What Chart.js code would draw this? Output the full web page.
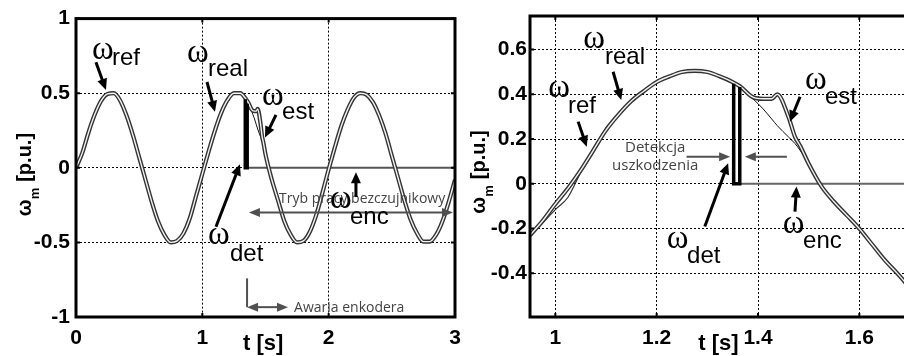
<!DOCTYPE html>
<html><head><meta charset="utf-8">
<script src="https://cdn.jsdelivr.net/npm/chart.js@4.4.1/dist/chart.umd.min.js"></script>
<style>
html,body{margin:0;padding:0;background:#fff;overflow:hidden;width:904px;height:356px}
#wrap{position:relative;width:904px;height:356px;overflow:hidden}
canvas{position:absolute;top:0}
#c1{left:0}
#c2{left:460px}
</style></head>
<body><div id="wrap"><canvas id="c1" width="470" height="356" style="width:470px;height:356px"></canvas><canvas id="c2" width="470" height="356" style="width:470px;height:356px"></canvas></div>
<script>
// ---------- LEFT PANEL DATA (t in s, omega in p.u.) ----------
const tL = [0,0.05,0.1,0.15,0.2,0.25,0.3,0.35,0.4,0.45,
  0.5,0.55,0.6,0.65,0.7,0.75,0.8,0.85,0.9,0.95,
  1.0,1.05,1.1,1.15,1.2,1.25,1.3,1.35,
  1.365,1.39,1.41,1.427,1.438,1.46,1.473,1.483,
  1.5,1.55,1.6,1.65,1.7,1.75,1.8,1.85,1.9,1.95,
  2.0,2.05,2.1,2.15,2.2,2.25,2.3,2.35,2.4,2.45,
  2.5,2.55,2.6,2.65,2.7,2.75,2.8,2.85,2.9,2.95,3.0];
const realL = [0,0.10,0.24,0.36,0.45,0.495,0.50,0.45,0.35,0.22,
  0.07,-0.08,-0.23,-0.36,-0.45,-0.50,-0.49,-0.44,-0.34,-0.19,
  -0.04,0.11,0.25,0.37,0.455,0.50,0.50,0.455,
  0.435,0.39,0.38,0.38,0.395,0.30,0.21,0.17,
  0.09,-0.08,-0.22,-0.36,-0.45,-0.50,-0.49,-0.43,-0.32,-0.17,
  -0.01,0.14,0.28,0.39,0.47,0.50,0.49,0.44,0.35,0.23,
  0.08,-0.07,-0.22,-0.35,-0.44,-0.495,-0.495,-0.45,-0.36,-0.23,-0.08];
const refL = [0,0.10,0.24,0.36,0.45,0.495,0.50,0.45,0.35,0.22,
  0.07,-0.08,-0.23,-0.36,-0.45,-0.50,-0.49,-0.44,-0.34,-0.19,
  -0.04,0.11,0.25,0.37,0.455,0.50,0.50,0.455,
  0.43,0.38,0.335,0.29,0.26,0.21,0.18,0.15,
  0.09,-0.08,-0.22,-0.36,-0.45,-0.50,-0.49,-0.43,-0.32,-0.17,
  -0.01,0.14,0.28,0.39,0.47,0.50,0.49,0.44,0.35,0.23,
  0.08,-0.07,-0.22,-0.35,-0.44,-0.495,-0.495,-0.45,-0.36,-0.23,-0.08];
const tEncL = [0,0.05,0.1,0.15,0.2,0.25,0.3,0.35,0.4,0.45,
  0.5,0.55,0.6,0.65,0.7,0.75,0.8,0.85,0.9,0.95,
  1.0,1.05,1.1,1.15,1.2,1.25,1.3,1.35,1.355,1.355,3.0];
const encL = [0,0.10,0.24,0.36,0.45,0.495,0.50,0.45,0.35,0.22,
  0.07,-0.08,-0.23,-0.36,-0.45,-0.50,-0.49,-0.44,-0.34,-0.19,
  -0.04,0.11,0.25,0.37,0.455,0.50,0.50,0.455,0.44,0,0];
const tDetL = [1.34,1.34,1.355,1.355];
const detL  = [0.46,0,0,0.43];
const xTicksL = [0,1,2,3];
const yTicksL = [-1,-0.5,0,0.5,1];

// ---------- RIGHT PANEL DATA (zoom) ----------
const tR = [0.95,0.975,1.0,1.025,1.05,1.075,1.1,1.125,1.15,1.175,
  1.2,1.225,1.25,1.275,1.3,1.325,1.35,
  1.365,1.39,1.41,1.427,1.438,1.46,1.473,1.483,
  1.5,1.525,1.55,1.575,1.6,1.625,1.65,1.675,1.7];
const realR = [-0.23,-0.165,-0.09,-0.02,0.06,0.15,0.24,0.31,0.37,0.415,
  0.455,0.48,0.50,0.505,0.50,0.48,0.455,
  0.435,0.387,0.38,0.38,0.40,0.30,0.21,0.17,
  0.09,-0.01,-0.08,-0.14,-0.20,-0.27,-0.34,-0.40,-0.465];
const refR = [-0.225,-0.16,-0.085,-0.015,0.065,0.15,0.235,0.305,0.365,0.41,
  0.45,0.478,0.497,0.503,0.498,0.48,0.452,
  0.43,0.38,0.335,0.29,0.26,0.21,0.18,0.15,
  0.09,-0.01,-0.08,-0.14,-0.20,-0.27,-0.34,-0.40,-0.465];
const estR = [-0.235,-0.175,-0.115,-0.06,0.05,0.14,0.25,0.305,0.37,0.415,
  0.455,0.48,0.50,0.505,0.50,0.48,0.455,
  0.435,0.387,0.38,0.38,0.40,0.30,0.21,0.17,
  0.09,-0.01,-0.08,-0.14,-0.20,-0.27,-0.34,-0.40,-0.465];
const tEncR = [0.95,0.975,1.0,1.025,1.05,1.075,1.1,1.125,1.15,1.175,
  1.2,1.225,1.25,1.275,1.3,1.325,1.35,1.364,1.364,1.7];
const encR = [-0.23,-0.165,-0.09,-0.02,0.06,0.15,0.24,0.31,0.37,0.415,
  0.455,0.48,0.50,0.505,0.50,0.48,0.455,0.44,0,0];
const tDetR = [1.352,1.352,1.364,1.364];
const detR  = [0.447,0,0,0.433];
const xTicksR = [1,1.2,1.4,1.6];
const yTicksR = [-0.4,-0.2,0,0.2,0.4,0.6];

// ---------- helpers ----------
const pts = (xs, ys) => xs.map((x, i) => ({x: x, y: ys[i]}));
const SANS = '"Liberation Sans", Arial, sans-serif';

function head(ctx, x, y, a, len, hw) {
  ctx.beginPath();
  ctx.moveTo(x, y);
  ctx.lineTo(x - len * Math.cos(a) + hw * Math.sin(a), y - len * Math.sin(a) - hw * Math.cos(a));
  ctx.lineTo(x - len * Math.cos(a) - hw * Math.sin(a), y - len * Math.sin(a) + hw * Math.cos(a));
  ctx.closePath();
  ctx.fill();
}
function arrow(ctx, x1, y1, x2, y2, len, hw, both) {
  const a = Math.atan2(y2 - y1, x2 - x1);
  const k = len * 0.7;
  ctx.beginPath();
  ctx.moveTo(both ? x1 + k * Math.cos(a) : x1, both ? y1 + k * Math.sin(a) : y1);
  ctx.lineTo(x2 - k * Math.cos(a), y2 - k * Math.sin(a));
  ctx.stroke();
  head(ctx, x2, y2, a, len, hw);
  if (both) head(ctx, x1, y1, a + Math.PI, len, hw);
}

const annot = {
  id: 'annot',
  afterDatasetsDraw(chart, args, o) {
    const ctx = chart.ctx, a = chart.chartArea;
    const sx = chart.scales.x, sy = chart.scales.y;
    const X = t => sx.getPixelForValue(t), Y = v => sy.getPixelForValue(v);
    ctx.save();
    // small inner tick marks
    ctx.strokeStyle = '#000'; ctx.lineWidth = 2;
    o.xt.forEach(t => { const p = X(t); ctx.beginPath(); ctx.moveTo(p, a.bottom); ctx.lineTo(p, a.bottom - 4); ctx.moveTo(p, a.top); ctx.lineTo(p, a.top + 4); ctx.stroke(); });
    o.yt.forEach(v => { const p = Y(v); ctx.beginPath(); ctx.moveTo(a.left, p); ctx.lineTo(a.left + 4, p); ctx.moveTo(a.right, p); ctx.lineTo(a.right - 4, p); ctx.stroke(); });
    // frame
    ctx.lineWidth = 3;
    ctx.strokeRect(a.left, a.top, a.right - a.left, a.bottom - a.top);
    // gray annotations
    ctx.strokeStyle = '#505050'; ctx.fillStyle = '#505050'; ctx.lineWidth = 2;
    (o.grayLines || []).forEach(l => { ctx.beginPath(); ctx.moveTo(X(l[0][0]), Y(l[0][1])); ctx.lineTo(X(l[1][0]), Y(l[1][1])); ctx.stroke(); });
    (o.grayArrows || []).forEach(l => arrow(ctx, X(l.p[0][0]), Y(l.p[0][1]), X(l.p[1][0]), Y(l.p[1][1]), 11, 4.5, l.both));
    ctx.textBaseline = 'alphabetic';
    (o.grayTexts || []).forEach(g => {
      ctx.font = g.size + 'px "Open Sans", "Noto Sans", sans-serif';
      ctx.textAlign = g.align; ctx.fillStyle = '#444'; ctx.fillText(g.text, X(g.at[0]), Y(g.at[1]));
    });
    // black arrows
    ctx.strokeStyle = '#000'; ctx.fillStyle = '#000'; ctx.lineWidth = 3;
    o.arrows.forEach(l => arrow(ctx, X(l[0][0]), Y(l[0][1]), X(l[1][0]), Y(l[1][1]), 11, 5, false));
    // omega labels
    ctx.textAlign = 'left';
    o.labels.forEach(l => {
      ctx.font = '33px "Liberation Serif", "DejaVu Serif", serif';
      ctx.fillText('ω', X(l.w[0]), Y(l.w[1]));
      ctx.font = '24px ' + SANS;
      ctx.fillText(l.sub, X(l.s[0]), Y(l.s[1]));
    });
    ctx.restore();
  },
  afterDraw(chart, args, o) {
    const ctx = chart.ctx, a = chart.chartArea;
    const sx = chart.scales.x;
    ctx.save();
    ctx.fillStyle = '#000';
    ctx.textBaseline = 'alphabetic';
    // x title
    ctx.font = 'bold 22px ' + SANS; ctx.textAlign = 'left';
    ctx.fillText('t [s]', sx.getPixelForValue(o.xTitleAt), a.bottom + 33);
    // y title (rotated)
    ctx.translate(a.left - 45, a.top + 156);
    ctx.rotate(-Math.PI / 2);
    const f1 = 'bold 20px ' + SANS, f2 = 'bold 13px ' + SANS;
    ctx.font = f1; const w1 = ctx.measureText('ω').width, w3 = ctx.measureText('[p.u.]').width;
    ctx.font = f2; const w2 = ctx.measureText('m').width;
    const gap = 6; let xx = -(w1 + w2 + gap + w3) / 2;
    ctx.font = f1; ctx.fillText('ω', xx, 0); xx += w1;
    ctx.font = f2; ctx.fillText('m', xx, 8); xx += w2 + gap;
    ctx.font = f1; ctx.fillText('[p.u.]', xx, 0);
    ctx.restore();
  }
};

function scaleOpts(min, max, ticks, size, isX, pad) {
  return {
    type: 'linear', min: min, max: max,
    afterBuildTicks: s => { s.ticks = ticks.map(v => ({value: v})); },
    afterFit: s => { if (isX) s.height = size; else s.width = size; },
    grid: {color: '#000', lineWidth: 1, drawTicks: false},
    border: {display: false, dash: [2, 2]},
    ticks: {font: {family: 'Liberation Sans', size: 21, weight: 'bold'}, color: '#000',
      padding: pad, autoSkip: false, maxRotation: 0, callback: v => String(v)}
  };
}
function ds(label, xs, ys, color, width, order, smooth) {
  return {label: label, data: pts(xs, ys), borderColor: color, borderWidth: width, pointRadius: 0,
    fill: false, order: order, tension: 0,
    cubicInterpolationMode: smooth ? 'monotone' : 'default'};
}
function makeChart(id, datasets, xr, yr, xt, yt, yw, padRight, yPad, annotOpts) {
  return new Chart(document.getElementById(id), {
    type: 'line',
    data: {datasets: datasets},
    options: {
      responsive: false, animation: false, devicePixelRatio: 1,
      layout: {padding: {left: 0, top: 16, right: padRight, bottom: 0}},
      scales: {x: scaleOpts(xr[0], xr[1], xt, 39, true, 9), y: scaleOpts(yr[0], yr[1], yt, yw, false, yPad)},
      plugins: {legend: {display: false}, tooltip: {enabled: false}, annot: annotOpts}
    },
    plugins: [annot]
  });
}

// ---------- LEFT CHART ----------
makeChart('c1', [
  ds('ω_det', tDetL, detL, '#000', 3.5, 1, false),
  ds('ω_real core', tL, realL, '#f2f2f2', 1.4, 2, true),
  ds('ω_real', tL, realL, '#333', 4.2, 3, true),
  ds('ω_ref', tL, refL, '#111', 1, 4, true),
  ds('ω_enc', tEncL, encL, '#555', 2, 5, false)
], [0, 3], [-1, 1], xTicksL, yTicksL, 76, 15, 6, {
  xt: xTicksL, yt: yTicksL, xTitleAt: 1.322,
  labels: [
    {sub: 'ref', w: [0.127, 0.728], s: [0.285, 0.688]},
    {sub: 'real', w: [0.879, 0.708], s: [1.045, 0.615]},
    {sub: 'est', w: [1.472, 0.422], s: [1.631, 0.329]},
    {sub: 'det', w: [1.045, -0.508], s: [1.219, -0.628]},
    {sub: 'enc', w: [2.011, -0.269], s: [2.169, -0.375]}
  ],
  arrows: [
    [[0.158, 0.708], [0.237, 0.522]],
    [[1.037, 0.575], [1.100, 0.375]],
    [[1.583, 0.355], [1.496, 0.203]],
    [[1.108, -0.395], [1.298, 0.023]],
    [[2.216, -0.196], [2.216, -0.030]]
  ],
  grayLines: [[[1.354, -0.741], [1.354, -0.934]]],
  grayArrows: [
    {p: [[1.369, -0.300], [2.984, -0.300]], both: true},
    {p: [[1.354, -0.934], [1.678, -0.934]], both: true}
  ],
  grayTexts: [
    {text: 'Tryb pracy bezczujnikowy', at: [1.607, -0.236], align: 'left', size: 14},
    {text: 'Awaria enkodera', at: [1.726, -0.967], align: 'left', size: 14}
  ]
});

// ---------- RIGHT CHART ----------
makeChart('c2', [
  ds('ω_det', tDetR, detR, '#000', 3.5, 1, false),
  ds('ω_real core', tR, realR, '#f2f2f2', 1.4, 2, true),
  ds('ω_real', tR, realR, '#333', 4.2, 3, true),
  ds('ω_ref', tR, refR, '#111', 1, 4, true),
  ds('ω_est', tR, estR, '#333', 1.2, 5, true),
  ds('ω_enc', tEncR, encR, '#666', 2, 6, false)
], [0.95, 1.7], [-0.595, 0.75], xTicksR, yTicksR, 70, 20, 3, {
  xt: xTicksR, yt: yTicksR, xTitleAt: 1.282,
  labels: [
    {sub: 'real', w: [1.055, 0.607], s: [1.098, 0.535]},
    {sub: 'ref', w: [0.986, 0.388], s: [1.025, 0.317]},
    {sub: 'est', w: [1.493, 0.424], s: [1.532, 0.357]},
    {sub: 'det', w: [1.220, -0.287], s: [1.260, -0.354]},
    {sub: 'enc', w: [1.449, -0.220], s: [1.489, -0.287]}
  ],
  arrows: [
    [[1.114, 0.501], [1.130, 0.375]],
    [[1.045, 0.278], [1.062, 0.166]],
    [[1.483, 0.389], [1.463, 0.278]],
    [[1.295, -0.191], [1.341, 0.092]],
    [[1.473, -0.124], [1.476, -0.012]]
  ],
  grayArrows: [
    {p: [[1.259, 0.121], [1.345, 0.121]], both: false},
    {p: [[1.457, 0.121], [1.374, 0.121]], both: false}
  ],
  grayTexts: [
    {text: 'Detekcja', at: [1.197, 0.144], align: 'center', size: 15},
    {text: 'uszkodzenia', at: [1.197, 0.062], align: 'center', size: 15}
  ]
});
</script></body></html>
